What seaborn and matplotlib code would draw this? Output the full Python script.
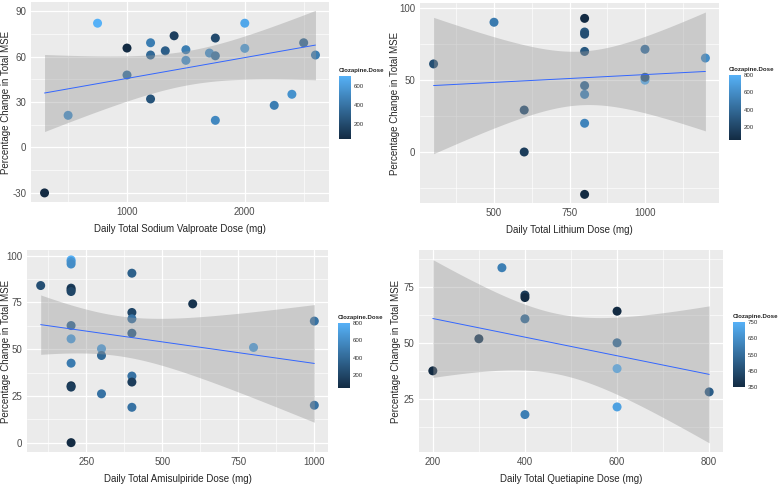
import math
import numpy as np
import pandas as pd
import seaborn as sns
import matplotlib.pyplot as plt
from matplotlib.colors import LinearSegmentedColormap, Normalize
from matplotlib.cm import ScalarMappable
from matplotlib.ticker import MultipleLocator

# Valproato
valproate_dose = [300, 500, 750, 1000, 1000, 1200, 1200, 1200, 1325, 1400, 1500,
                  1500, 1700, 1750, 1750, 1750, 2000, 2000, 2250, 2400, 2500, 2600]
valproate_mse = [-30, 21.2, 82, 65.6, 47.8, 69.1, 61, 32, 63.8, 73.7, 64.5,
                 57.5, 62.3, 60.5, 72.2, 17.9, 82, 65.4, 27.8, 35.1, 69.1, 61]
valproate_cloz = [50, 550, 700, 50, 400, 450, 350, 250, 300, 150, 450,
                  550, 550, 400, 200, 500, 650, 600, 450, 550, 350, 450]

# Litio
lithium_dose = [300, 500, 600, 600, 800, 800, 800, 800, 800, 800, 800, 800,
                1000, 1000, 1000, 1200]
lithium_mse = [61.3, 90.3, 29.2, 0, 93, 83.5, 82, 70, 46.2, 40.1, 20, -29.5,
               71.5, 50, 52, 65.4]
lithium_cloz = [250, 500, 250, 150, 50, 300, 250, 300, 400, 550, 550, 50,
                450, 800, 300, 600]

# Amisulprida
amisulpride_dose = [100, 200, 200, 200, 200, 200, 200, 200, 200, 200, 200, 200, 200,
                    300, 300, 300, 400, 400, 400, 400, 400, 400, 400, 600, 800, 1000, 1000]
amisulpride_mse = [84, 97.7, 96.8, 95.5, 82.6, 81.7, 80.8, 62.6, 55.5, 42.5, 30.4, 29.7, 0,
                   50.2, 46.6, 26.1, 90.6, 69.6, 66.2, 58.5, 35.6, 32.4, 18.9, 74.2, 50.9, 65, 20]
amisulpride_cloz = [250, 800, 650, 600, 150, 100, 200, 400, 700, 500, 100, 150, 50,
                    700, 400, 450, 350, 200, 450, 350, 450, 150, 450, 100, 700, 450, 450]

# Quetiapina
quetiapine_dose = [200, 300, 350, 400, 400, 400, 400, 600, 600, 600, 600, 800]
quetiapine_mse = [37.5, 51.8, 83.5, 71.3, 70.2, 60.7, 18, 64.1, 50, 38.5, 21.4, 28.1]
quetiapine_cloz = [350, 400, 600, 400, 350, 550, 600, 350, 550, 750, 700, 500]

cmap = LinearSegmentedColormap.from_list("gg", ["#132B43", "#56B1F7"])
W, H = 778, 486


def t_quantile(df, p=0.975):
    # quantil da t de Student por integracao numerica (sem scipy)
    c = math.gamma((df + 1) / 2) / (math.sqrt(df * math.pi) * math.gamma(df / 2))
    t = np.linspace(0, 10, 20001)
    pdf = c * (1 + t ** 2 / df) ** (-(df + 1) / 2)
    cdf = 0.5 + np.concatenate([[0], np.cumsum((pdf[1:] + pdf[:-1]) / 2 * np.diff(t))])
    return float(np.interp(p, cdf, t))


def ols_band(x, y, grid):
    x = np.asarray(x, float)
    y = np.asarray(y, float)
    n = len(x)
    b1, b0 = np.polyfit(x, y, 1)
    resid = y - (b0 + b1 * x)
    s = np.sqrt(np.sum(resid ** 2) / (n - 2))
    sxx = np.sum((x - x.mean()) ** 2)
    se = s * np.sqrt(1 / n + (grid - x.mean()) ** 2 / sxx)
    fit = b0 + b1 * grid
    tq = t_quantile(n - 2)
    return fit - tq * se, fit + tq * se


panels = [
    dict(x=valproate_dose, y=valproate_mse, c=valproate_cloz,
         xlabel="Daily Total Sodium Valproate Dose (mg)",
         box=(31, 2, 329, 202), cbox=(339, 76, 139), ylim=(-36, 96), ylab_x=11,
         xmaj=1000, ymaj=30, cticks=[200, 400, 600]),
    dict(x=lithium_dose, y=lithium_mse, c=lithium_cloz,
         xlabel="Daily Total Lithium Dose (mg)",
         box=(420, 3, 719, 203), cbox=(729, 75, 140), ylim=(-35.5, 103.7), ylab_x=400,
         xmaj=250, ymaj=50, cticks=[200, 400, 600, 800]),
    dict(x=amisulpride_dose, y=amisulpride_mse, c=amisulpride_cloz,
         xlabel="Daily Total Amisulpiride Dose (mg)",
         box=(27, 250, 328, 452), cbox=(338, 323, 388), ylim=(-5, 103), ylab_x=11,
         xmaj=250, ymaj=25, cticks=[200, 400, 600, 800]),
    dict(x=quetiapine_dose, y=quetiapine_mse, c=quetiapine_cloz,
         xlabel="Daily Total Quetiapine Dose (mg)",
         box=(419, 250, 723, 452), cbox=(733, 322, 387), ylim=(1.3, 91.4), ylab_x=401,
         xmaj=200, ymaj=25, cticks=[350, 450, 550, 650, 750]),
]

sns.set_style("white")
plt.rcParams["font.family"] = ["Liberation Sans", "DejaVu Sans"]
plt.rcParams["axes.unicode_minus"] = False

fig = plt.figure(figsize=(W / 100, H / 100), dpi=100)

for p in panels:
    x0, y0, x1, y1 = p["box"]
    ax = fig.add_axes([x0 / W, 1 - y1 / H, (x1 - x0) / W, (y1 - y0) / H])
    ax.set_facecolor("#EBEBEB")
    df = pd.DataFrame({"dose": p["x"], "mse": p["y"], "cloz": p["c"]})
    lo, hi = min(p["c"]), max(p["c"])

    sns.scatterplot(data=df, x="dose", y="mse", hue="cloz", palette=cmap,
                    hue_norm=(lo, hi), s=42, edgecolor="none", legend=False,
                    ax=ax, zorder=2)
    # faixa de confianca 95% (como geom_smooth do ggplot), desenhada por cima dos pontos
    grid = np.linspace(min(p["x"]), max(p["x"]), 100)
    low, high = ols_band(p["x"], p["y"], grid)
    ax.fill_between(grid, low, high, color="#999999", alpha=0.4, lw=0, zorder=3)
    sns.regplot(data=df, x="dose", y="mse", scatter=False, ci=None,
                line_kws={"color": "#3366FF", "lw": 0.7, "zorder": 4}, ax=ax)

    xr = max(p["x"]) - min(p["x"])
    ax.set_xlim(min(p["x"]) - 0.05 * xr, max(p["x"]) + 0.05 * xr)
    ax.set_ylim(*p["ylim"])
    ax.xaxis.set_major_locator(MultipleLocator(p["xmaj"]))
    ax.xaxis.set_minor_locator(MultipleLocator(p["xmaj"] / 2))
    ax.yaxis.set_major_locator(MultipleLocator(p["ymaj"]))
    ax.yaxis.set_minor_locator(MultipleLocator(p["ymaj"] / 2))
    ax.grid(which="major", color="white", lw=0.9, zorder=0)
    ax.grid(which="minor", color="white", lw=0.45, zorder=0)
    ax.set_axisbelow(True)
    for s in ax.spines.values():
        s.set_visible(False)
    ax.tick_params(which="major", length=2, width=0.6, color="#333333",
                   labelsize=7.0, labelcolor="#4D4D4D", pad=1.5)
    ax.tick_params(which="minor", length=0)
    ax.set_xlabel(p["xlabel"], fontsize=7.0, labelpad=5)
    ax.set_ylabel("Percentage Change in Total MSE", fontsize=7.0)
    ax.yaxis.set_label_coords((p["ylab_x"] - x0) / (x1 - x0), 0.5)

    # barra de cores
    cx, cy0, cy1 = p["cbox"]
    cax = fig.add_axes([cx / W, 1 - cy1 / H, 12 / W, (cy1 - cy0) / H])
    sm = ScalarMappable(norm=Normalize(lo, hi), cmap=cmap)
    cb = fig.colorbar(sm, cax=cax, ticks=p["cticks"])
    cb.outline.set_visible(False)
    cax.tick_params(length=2.5, width=0.5, color="white", direction="in",
                    labelsize=4.4, labelcolor="#333333", pad=2)
    cax.set_title("Clozapine.Dose", fontsize=4.4, fontweight="bold",
                  loc="left", pad=3)

fig.savefig("out.png", dpi=100)
